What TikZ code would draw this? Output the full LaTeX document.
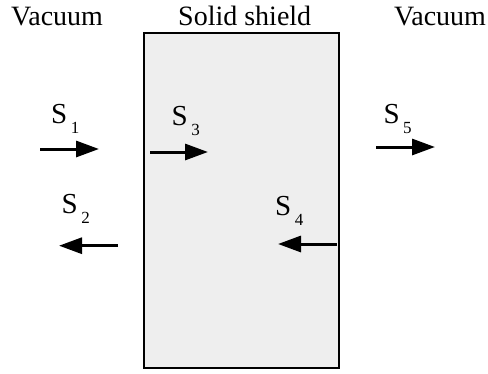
\documentclass[tikz,border=0pt]{standalone}
\usepackage{fontspec}
\setmainfont{Liberation Serif}
\usepackage{tikz}
\usetikzlibrary{calc}
\usetikzlibrary{arrows.meta}
\definecolor{Schild}{RGB}{238,238,238}
\newcommand{\Sflux}[1]{S\hspace{3.5pt}\raisebox{-10pt}{\fontsize{17}{17}\selectfont #1}}

\begin{document}
\begin{tikzpicture}[x=1pt, y=-1pt, Strom/.style={line width=3pt, arrows = -{Triangle[length=23pt, width=16pt]}}, Kopf/.style={anchor=base west, inner sep=0pt, font=\fontsize{28}{30}\selectfont}, Fluss/.style={anchor=base west, inner sep=0pt, font=\fontsize{29}{30}\selectfont}]
				\useasboundingbox (0,0) rectangle (488,373);
				\draw[line width=1.4pt, fill=Schild] (144,33) rectangle (339,368);
				\node[Kopf] (v1) at (11,25) {Vacuum};
				\node[Kopf] (sh) at (178,25) {Solid shield};
				\node[Kopf] (v2) at (394,25) {Vacuum};
				\node[Fluss] (s1) at (51,123.3) {\Sflux{1}};
				\node[Fluss] (s3) at (171.5,125.7) {\Sflux{3}};
				\node[Fluss] (s5) at (383.3,123.3) {\Sflux{5}};
				\node[Fluss] (s2) at (61.5,213.3) {\Sflux{2}};
				\node[Fluss] (s4) at (275,215) {\Sflux{4}};
				\coordinate (a1) at (40,149);
				\coordinate (b1) at ($(a1) + (59,0)$);
				\coordinate (a3) at (150,152);
				\coordinate (b3) at ($(a3) + (58,0)$);
				\coordinate (a5) at (376,147);
				\coordinate (b5) at ($(a5) + (59,0)$);
				\coordinate (a2) at (118,245.7);
				\coordinate (b2) at ($(a2) - (59,0)$);
				\coordinate (a4) at (337,244);
				\coordinate (b4) at ($(a4) - (59,0)$);
				\draw[Strom] (a1) -- (b1);
				\draw[Strom] (a3) -- (b3);
				\draw[Strom] (a5) -- (b5);
				\draw[Strom] (a2) -- (b2);
				\draw[Strom] (a4) -- (b4);
			\end{tikzpicture}
\end{document}
